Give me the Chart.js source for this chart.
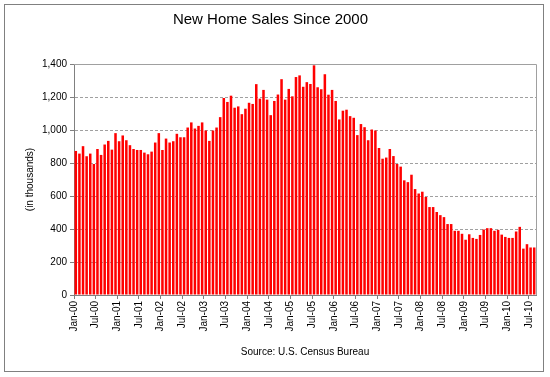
<!DOCTYPE html>
<html>
<head>
<meta charset="utf-8">
<script src="https://cdn.jsdelivr.net/npm/chart.js@4"></script>
<style>
  html, body { margin: 0; padding: 0; background: #fff; }
  canvas { display: block; }
</style>
</head>
<body>
<canvas id="salesChart" width="550" height="377"></canvas>
<script>
// monthly new home sales, thousands
const sales2000 = [873, 857, 902, 841, 857, 794, 885, 849, 912, 934, 881, 981];
const sales2001 = [932, 967, 938, 908, 885, 879, 879, 863, 853, 869, 924, 981];
const sales2002 = [879, 948, 924, 932, 977, 956, 956, 1015, 1046, 1009, 1025, 1046];
const sales2003 = [997, 934, 997, 1015, 1078, 1194, 1170, 1208, 1135, 1143, 1096, 1129];
const sales2004 = [1165, 1158, 1278, 1190, 1243, 1184, 1090, 1176, 1215, 1308, 1184, 1249];
const sales2005 = [1204, 1321, 1331, 1262, 1290, 1279, 1392, 1259, 1247, 1338, 1214, 1243];
const sales2006 = [1176, 1064, 1117, 1123, 1084, 1074, 969, 1036, 1017, 938, 1003, 997];
const sales2007 = [891, 826, 833, 885, 842, 794, 778, 695, 684, 729, 642, 615];
const sales2008 = [626, 594, 533, 533, 503, 484, 472, 430, 430, 389, 389, 371];
const sales2009 = [335, 368, 346, 340, 364, 397, 405, 405, 389, 395, 366, 352];
const sales2010 = [346, 346, 385, 413, 281, 308, 288, 288];

const years = [2000, 2001, 2002, 2003, 2004, 2005, 2006, 2007, 2008, 2009, 2010];
const monthNames = ["Jan", "Feb", "Mar", "Apr", "May", "Jun", "Jul", "Aug", "Sep", "Oct", "Nov", "Dec"];
const tickLabels = ["Jan-00", "Jul-00", "Jan-01", "Jul-01", "Jan-02", "Jul-02", "Jan-03", "Jul-03",
  "Jan-04", "Jul-04", "Jan-05", "Jul-05", "Jan-06", "Jul-06", "Jan-07", "Jul-07",
  "Jan-08", "Jul-08", "Jan-09", "Jul-09", "Jan-10", "Jul-10"];
const yTicks = [0, 200, 400, 600, 800, 1000, 1200, 1400];

const yearly = [sales2000, sales2001, sales2002, sales2003, sales2004, sales2005,
  sales2006, sales2007, sales2008, sales2009, sales2010];

const labels = [];
const sales = [];
yearly.forEach((vals, k) => {
  vals.forEach((v, m) => {
    labels.push(monthNames[m] + "-" + String(years[k]).slice(2));
    sales.push(v);
  });
});

Chart.defaults.font.family = "Arial, 'Liberation Sans', sans-serif";
Chart.defaults.color = "#000";

// white page, outer frame, plot area top/right edges
const framePlugin = {
  id: "frame",
  beforeDraw(chart) {
    const ctx = chart.ctx;
    ctx.save();
    ctx.fillStyle = "#fff";
    ctx.fillRect(0, 0, chart.width, chart.height);
    ctx.restore();
  },
  beforeDatasetsDraw(chart) {
    const { ctx, chartArea: a } = chart;
    ctx.save();
    ctx.strokeStyle = "#a0a0a0";
    ctx.lineWidth = 1;
    ctx.beginPath();
    ctx.moveTo(a.left, a.top + 0.5);
    ctx.lineTo(a.right + 0.5, a.top + 0.5);
    ctx.lineTo(a.right + 0.5, a.bottom);
    ctx.stroke();
    ctx.restore();
  },
  afterDraw(chart) {
    const ctx = chart.ctx;
    ctx.save();
    ctx.strokeStyle = "#808080";
    ctx.lineWidth = 1;
    ctx.strokeRect(4.5, 4.5, 539, 367);
    ctx.restore();
  }
};

const ctx = document.getElementById("salesChart").getContext("2d");
new Chart(ctx, {
  type: "bar",
  data: {
    labels: labels,
    datasets: [{
      label: "New Home Sales",
      data: sales,
      backgroundColor: "#ff0000",
      borderWidth: 0,
      barPercentage: 0.7,
      categoryPercentage: 1.0
    }]
  },
  options: {
    responsive: false,
    animation: false,
    layout: { padding: { left: 5, right: 14, top: 5, bottom: 0 } },
    plugins: {
      legend: { display: false },
      tooltip: { enabled: false },
      title: {
        display: true,
        text: "New Home Sales Since 2000",
        font: { size: 15, weight: "normal" },
        color: "#000",
        padding: { top: 6, bottom: 35 }
      }
    },
    scales: {
      x: {
        grid: {
          offset: true,
          drawOnChartArea: false,
          drawTicks: true,
          tickLength: 4,
          tickColor: (c) => (c.index % 6 === 0 ? "#808080" : "rgba(0,0,0,0)")
        },
        border: { color: "#808080", width: 1 },
        ticks: {
          autoSkip: false,
          minRotation: 90,
          maxRotation: 90,
          padding: 2,
          labelOffset: -1.8,
          font: { size: 10 },
          color: "#000",
          callback: (v, i) => (i % 6 === 0 ? tickLabels[i / 6] : "")
        },
        title: {
          display: true,
          text: "Source: U.S. Census Bureau",
          font: { size: 10 },
          color: "#000",
          padding: { top: 0, bottom: 19 }
        },
        afterFit: (s) => { s.height = 82; }
      },
      y: {
        min: yTicks[0],
        max: yTicks[yTicks.length - 1],
        afterBuildTicks: (s) => { s.ticks = yTicks.map((v) => ({ value: v })); },
        ticks: {
          padding: 3,
          font: { size: 10 },
          color: "#000",
          callback: (v) => v.toLocaleString("en-US")
        },
        grid: {
          color: (c) => (c.tick && (c.tick.value === 0 || c.tick.value === 1400) ? "rgba(0,0,0,0)" : "#a0a0a0"),
          tickColor: "#808080",
          tickLength: 4,
          tickBorderDash: []
        },
        border: { color: "#808080", width: 1, dash: [3, 2] },
        title: {
          display: true,
          text: "(in thousands)",
          font: { size: 10 },
          color: "#000",
          padding: { top: 19, bottom: 0 }
        },
        afterFit: (s) => { s.width = 69; }
      }
    }
  },
  plugins: [framePlugin]
});
</script>
</body>
</html>
